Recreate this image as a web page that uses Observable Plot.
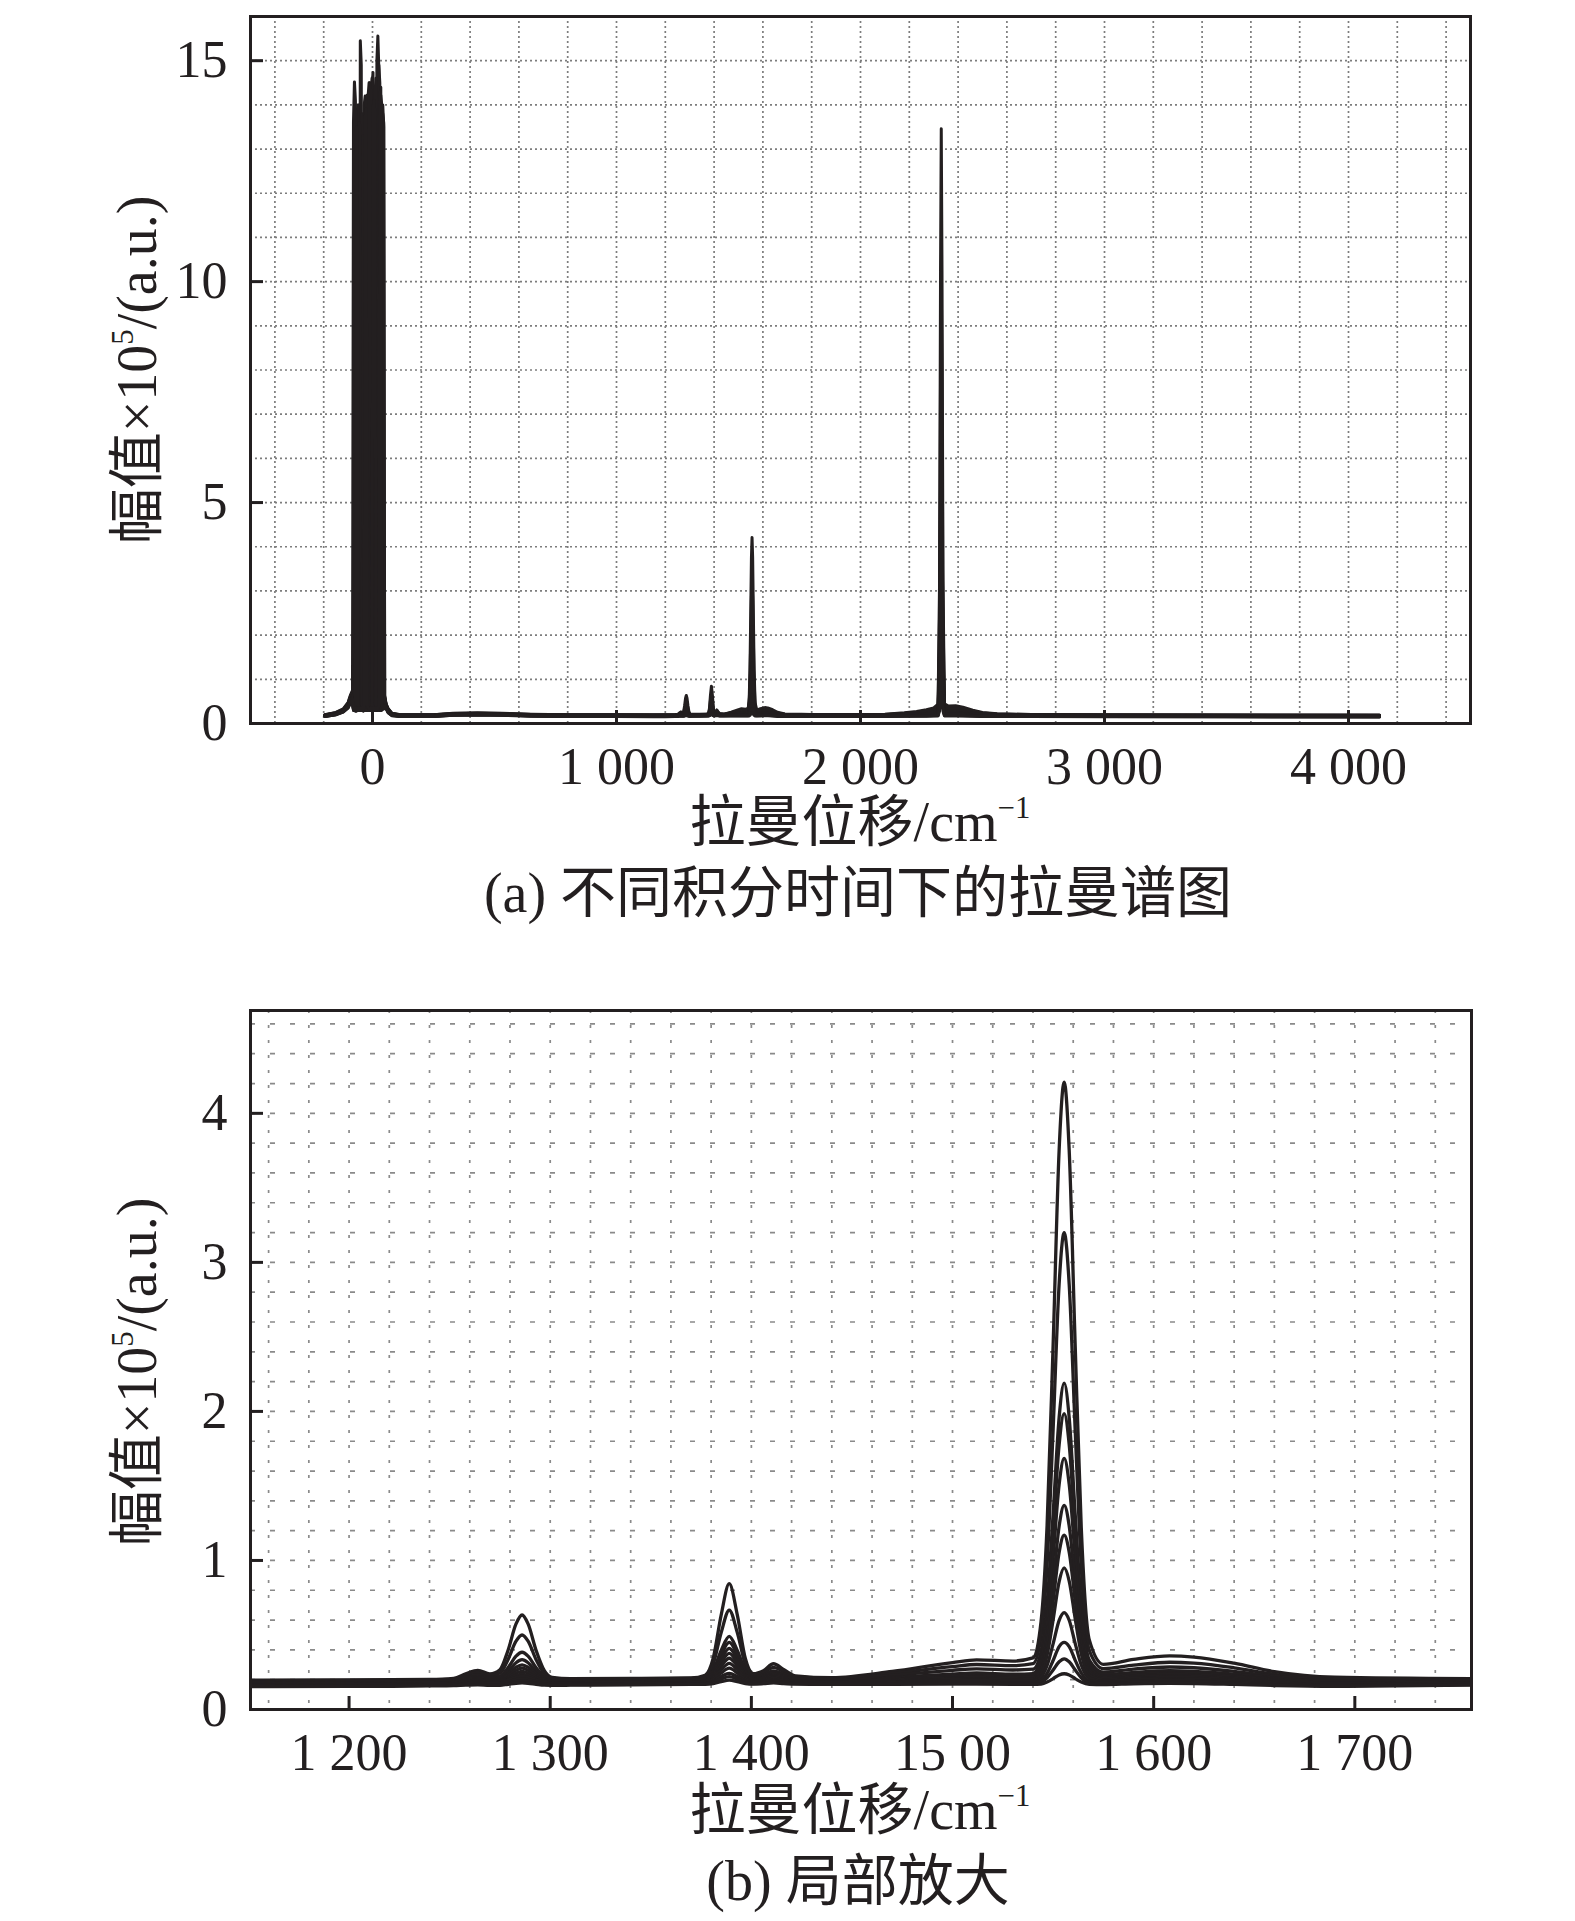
<!DOCTYPE html>
<html><head><meta charset="utf-8">
<script src="https://cdn.jsdelivr.net/npm/d3@7"></script>
<script src="https://cdn.jsdelivr.net/npm/@observablehq/plot@0.6"></script>
<style>
body{margin:0;background:#fff;}
#wrap{position:relative;width:1575px;height:1921px;font-family:'Liberation Serif','Times New Roman','Noto Sans CJK SC',serif;color:#231f20;overflow:hidden;}
#wrap svg{position:absolute;left:0;}
.t{position:absolute;white-space:nowrap;line-height:1;transform:translateX(-50%);}
.t sup{font-size:55%;vertical-align:0.75em;line-height:0;}
.yt{position:absolute;white-space:nowrap;line-height:1;font-size:56px;transform:translate(-50%,-50%) rotate(-90deg);}
.yt sup{font-size:55%;vertical-align:0.75em;line-height:0;}
</style></head>
<body><div id="wrap"></div>
<script>
// ---------- data ----------
const seriesIds = [1,2,3,4,5,6,7,8,9,10,11,12];

// chart (a): Rayleigh region
const rayleighX = [-195,-150,-120,-100,-90,-82,-78,-74,-70,-66,-62,-58,-54,-50,-46,-42,-38,-34,-30,-26,-22,-18,-14,-10,-6,-2,2,6,10,14,18,22,26,30,34,38,42,46,50,56,64,80,110,160,250,330,430,530,650,800,1000];
const rayleighY = [
 [.200,.250,.330,.480,.650,.750, .39,.33,.28,.3,.36,.33,.42,15.45,14.9,.48,.36,.3,.33,.39,.45,14.2,14.5,14.35,.52,.39,.36,.33,.3,.36,.42,.33,.3,.36,.39,.45,.48,.52, .62,.44,.34,.23,.205,.2,.2,.23,.24,.23,.21,.2,.2],
 [.196,.245,.320,.460,.620,.720, .36,.3,.33,.28,.3,.36,.39,.33,.3,.36,.48,14.0,14.2,.45,.36,.33,.3,.36,.39,.33,.3,.36,.33,.48,15.0,15.56,14.8,.5,.39,.42,.45,.5, .60,.43,.33,.225,.2,.196,.196,.225,.235,.225,.206,.196,.196],
 [.192,.240,.310,.440,.600,.700, 13.6,14.52,14.1,.42,.33,.3,.36,.33,.39,.3,.28,.33,.36,.3,.33,.39,.36,.33,.45,14.4,14.73,.48,.36,.3,.33,.39,.36,.33,.36,.42,.45,.48, .58,.42,.32,.22,.196,.192,.192,.22,.23,.22,.202,.192,.192],
 [.188,.235,.300,.430,.580,.680, .33,.36,.3,.45,13.9,14.0,.42,.36,.33,.3,.36,.33,.3,.36,.39,.33,.3,.36,.33,.3,.36,.39,.33,.3,.36,.33,.45,13.8,14.22,14.0,.5,.45, .56,.41,.315,.215,.192,.188,.188,.216,.226,.216,.198,.188,.188],
 [.184,.230,.295,.420,.560,.660, .3,.33,.36,.3,.33,.39,.36,.3,.42,13.8,13.6,.45,.36,.33,.3,.36,.33,.3,.36,.33,.42,14.0,14.3,14.1,.48,.36,.33,.3,.36,.39,.42,.48, .54,.40,.31,.21,.188,.184,.184,.212,.222,.212,.194,.184,.184],
 [.180,.225,.290,.410,.545,.640, .36,.3,.33,.36,.3,.33,.3,.36,.33,.3,.33,.36,.42,14.0,14.22,.45,.36,.33,.3,.36,.33,.3,.36,.33,.3,.36,.33,.3,.39,13.7,14.0,13.5, .52,.39,.30,.205,.184,.18,.18,.208,.218,.208,.19,.18,.18],
 [.176,.220,.285,.400,.530,.620, .33,.39,13.9,13.7,.42,.36,.33,.3,.36,.33,.3,.36,.33,.3,.36,.33,.39,.45,14.3,14.6,14.4,.45,.36,.33,.3,.36,.33,.36,.3,.36,.39,.42, .50,.38,.29,.2,.18,.176,.176,.204,.214,.204,.186,.176,.176],
 [.172,.215,.280,.390,.515,.600, .3,.36,.33,.3,.36,.42,13.6,13.4,.45,.36,.33,.3,.36,.33,.3,.36,.33,.3,.36,.33,.3,.39,14.2,14.6,14.3,.45,.36,.33,.3,.36,.33,.39, .48,.37,.28,.195,.176,.172,.172,.2,.21,.2,.182,.172,.172],
 [.168,.210,.275,.380,.500,.580, .36,.33,.3,.36,.33,.3,.36,.33,.3,.39,13.3,13.1,.42,.36,.33,.3,.36,.33,.3,.36,.33,.3,.36,.33,.3,.42,14.9,14.5,.45,.36,.33,.36, .46,.36,.27,.19,.172,.168,.168,.196,.206,.196,.178,.168,.168],
 [.164,.205,.270,.370,.490,.560, .33,.3,.36,.33,.3,.36,.33,.3,.36,.33,.3,.36,.33,.3,.36,.42,14.1,14.5,14.2,.45,.36,.33,.3,.36,.33,.3,.36,.33,.3,.39,13.8,13.6, .44,.35,.26,.185,.168,.164,.164,.192,.202,.192,.174,.164,.164],
 [.160,.200,.265,.360,.480,.540, .3,.33,.39,13.5,13.3,.42,.36,.33,.3,.36,.33,.3,.36,.33,.3,.36,.33,.3,.36,.39,13.9,14.1,13.8,.42,.36,.33,.3,.36,.33,.3,.36,.39, .42,.34,.25,.18,.164,.16,.16,.188,.198,.188,.17,.16,.16],
 [.156,.195,.260,.350,.470,.520, .33,.3,.36,.33,.3,.33,.36,.3,.33,.36,.3,.39,13.7,13.9,.42,.36,.33,.3,.36,.33,.3,.36,.33,.3,.36,.33,.39,14.1,14.4,.45,.36,.33, .40,.33,.24,.175,.16,.156,.156,.184,.194,.184,.166,.156,.156]
];

// 1151–1758 cm-1 band (chart b, also part of chart a)
const bandX = [1151,1200,1240,1252,1258,1264,1270,1275,1279,1283,1286,1289,1293,1297,1301,1310,1340,1370,1377,1381,1385,1389,1393,1397,1401,1406,1411,1416,1422,1440,1470,1500,1512,1530,1540,1544,1547,1550,1553,1555.5,1558,1561,1564,1568,1575,1590,1608,1620,1640,1660,1690,1758];
const bandY = [
 [.197,.199,.202,.209,.239,.263,.239,.267,.396,.574,.634,.574,.396,.263,.215,.207,.209,.212,.230,.342,.635,.844,.635,.342,.240,.260,.307,.269,.226,.213,.255,.315,.333,.325,.346,.589,1.232,2.442,3.754,4.21,3.751,2.435,1.221,.467,.303,.336,.36,.352,.311,.254,.217,.207],
 [.193,.195,.198,.204,.229,.249,.228,.244,.334,.458,.50,.458,.334,.241,.208,.203,.205,.208,.221,.303,.516,.667,.516,.303,.229,.246,.283,.253,.219,.209,.242,.288,.302,.294,.307,.488,.968,1.874,2.855,3.20,2.852,1.867,.959,.396,.274,.298,.317,.311,.280,.236,.208,.203],
 [.189,.191,.194,.199,.216,.230,.216,.224,.280,.358,.384,.358,.280,.222,.202,.199,.201,.204,.212,.263,.396,.490,.396,.263,.218,.232,.259,.237,.212,.205,.229,.263,.273,.265,.271,.389,.708,1.309,1.960,2.19,1.959,1.307,.705,.332,.251,.271,.285,.280,.256,.223,.201,.199],
 [.185,.187,.190,.194,.209,.221,.208,.213,.256,.314,.334,.314,.256,.212,.196,.195,.197,.200,.207,.252,.368,.450,.368,.252,.212,.223,.245,.227,.207,.201,.216,.238,.245,.237,.241,.348,.639,1.184,1.776,1.985,1.777,1.187,.644,.307,.234,.249,.260,.256,.238,.211,.194,.195],
 [.181,.183,.186,.190,.202,.212,.202,.205,.238,.284,.300,.284,.238,.204,.192,.191,.193,.196,.202,.240,.339,.410,.339,.240,.206,.216,.236,.220,.202,.197,.210,.229,.235,.227,.229,.317,.560,1.016,1.510,1.685,1.511,1.018,.564,.284,.223,.235,.245,.242,.226,.203,.189,.191],
 [.177,.179,.182,.185,.195,.203,.194,.197,.226,.264,.277,.264,.226,.197,.187,.187,.189,.192,.197,.230,.316,.377,.316,.230,.201,.210,.227,.213,.197,.193,.204,.220,.225,.217,.216,.285,.478,.838,1.230,1.370,1.232,.843,.485,.263,.215,.226,.235,.232,.218,.197,.184,.187],
 [.173,.175,.178,.181,.190,.197,.189,.191,.214,.245,.255,.245,.214,.191,.183,.183,.185,.188,.192,.220,.293,.344,.293,.220,.195,.203,.218,.206,.192,.189,.198,.211,.215,.207,.205,.262,.423,.726,1.054,1.170,1.056,.731,.431,.247,.207,.217,.225,.222,.209,.191,.179,.183],
 [.169,.171,.174,.177,.184,.190,.184,.185,.203,.227,.235,.227,.203,.185,.178,.179,.181,.184,.188,.210,.268,.310,.268,.210,.190,.197,.209,.199,.188,.185,.192,.202,.205,.197,.193,.237,.364,.601,.858,.950,.862,.608,.374,.230,.199,.208,.215,.213,.201,.185,.175,.179],
 [.165,.167,.170,.172,.178,.183,.178,.179,.195,.215,.222,.215,.195,.180,.174,.175,.177,.180,.183,.200,.245,.277,.245,.200,.185,.190,.200,.192,.183,.181,.186,.193,.195,.189,.188,.217,.295,.440,.598,.650,.599,.442,.299,.210,.191,.199,.205,.203,.193,.179,.170,.175],
 [.161,.163,.166,.168,.173,.177,.173,.173,.185,.200,.205,.200,.185,.174,.170,.171,.173,.176,.178,.190,.221,.243,.221,.190,.180,.184,.191,.185,.178,.177,.180,.184,.185,.180,.180,.197,.243,.329,.422,.450,.422,.330,.246,.193,.183,.190,.195,.193,.185,.173,.165,.171],
 [.157,.159,.162,.164,.168,.171,.167,.167,.176,.187,.190,.187,.176,.168,.166,.167,.169,.172,.173,.182,.204,.220,.204,.182,.174,.178,.184,.179,.174,.173,.174,.177,.178,.175,.175,.186,.213,.265,.320,.340,.320,.265,.213,.181,.175,.181,.185,.184,.177,.167,.160,.167],
 [.153,.155,.158,.160,.163,.165,.162,.162,.169,.176,.178,.176,.169,.163,.162,.163,.165,.168,.169,.174,.187,.197,.187,.174,.170,.173,.178,.174,.170,.169,.169,.170,.170,.169,.168,.171,.184,.207,.232,.240,.232,.207,.184,.169,.167,.172,.175,.174,.168,.161,.156,.163]
];

// 1800–4127 cm-1 (chart a)
const tailX = [1800,1900,2000,2100,2180,2230,2270,2300,2318,2324,2328,2331,2334,2338,2344,2360,2390,2420,2460,2500,2560,2700,3000,3500,4127];
const tailY = [
 [.205,.204,.203,.212,.242,.272,.312,.352,.437,3.205,10.255,13.46,10.255,3.205,.449,.394,.40,.37,.30,.25,.22,.206,.198,.194,.19],
 [.201,.2,.199,.205,.23,.255,.29,.323,.389,2.477,7.786,10.2,7.786,2.477,.401,.36,.366,.34,.281,.239,.213,.201,.194,.19,.186],
 [.197,.196,.195,.2,.219,.238,.264,.29,.336,1.754,5.36,7.0,5.36,1.754,.345,.318,.322,.303,.257,.225,.205,.196,.19,.186,.182],
 [.193,.192,.191,.195,.21,.225,.245,.265,.305,1.578,4.823,6.3,4.823,1.578,.31,.285,.29,.275,.24,.215,.2,.193,.186,.182,.178],
 [.189,.188,.187,.19,.201,.214,.231,.248,.281,1.35,4.066,5.3,4.066,1.35,.287,.266,.269,.256,.226,.205,.193,.187,.182,.178,.174],
 [.185,.184,.183,.186,.195,.205,.219,.233,.261,1.141,3.382,4.4,3.382,1.141,.265,.248,.25,.24,.215,.198,.188,.182,.178,.174,.17],
 [.181,.18,.179,.182,.19,.198,.21,.222,.244,.98,2.85,3.7,2.85,.98,.248,.234,.236,.227,.206,.191,.182,.177,.174,.17,.166],
 [.177,.176,.175,.177,.184,.19,.2,.21,.228,.818,2.318,3.0,2.318,.818,.232,.22,.222,.215,.197,.185,.177,.173,.17,.166,.162],
 [.173,.172,.171,.173,.178,.183,.19,.198,.211,.614,1.635,2.1,1.635,.614,.214,.207,.208,.202,.188,.178,.172,.169,.166,.162,.158],
 [.169,.168,.167,.169,.172,.176,.18,.186,.196,.452,1.104,1.4,1.104,.452,.198,.193,.194,.19,.179,.171,.167,.165,.162,.158,.154],
 [.165,.164,.163,.164,.167,.169,.172,.175,.181,.366,.836,1.05,.836,.366,.182,.179,.18,.177,.17,.165,.162,.16,.158,.154,.15],
 [.161,.16,.159,.16,.162,.164,.166,.167,.172,.284,.57,.7,.57,.284,.172,.17,.171,.168,.163,.16,.158,.156,.154,.15,.146]
];

// ticks
const xTicksA = [0,1000,2000,3000,4000];
const xLabelsA = ["0","1 000","2 000","3 000","4 000"];
const yTicksA = [0,5,10,15];
const yLabelsA = ["0","5","10","15"];
const xTicksB = [1200,1300,1400,1500,1600,1700];
const xLabelsB = ["1 200","1 300","1 400","15 00","1 600","1 700"];
const yTicksB = [0,1,2,3,4];
const yLabelsB = ["0","1","2","3","4"];

// ---------- build tables ----------
const topRows = [], botRows = [];
seriesIds.forEach((id, s) => {
  rayleighX.forEach((x, i) => topRows.push({s: id, x, y: rayleighY[s][i]}));
  bandX.forEach((x, i) => { topRows.push({s: id, x, y: bandY[s][i]}); botRows.push({s: id, x, y: bandY[s][i]}); });
  tailX.forEach((x, i) => topRows.push({s: id, x, y: tailY[s][i]}));
});

const ink = "#231f20";
const fontStack = "'Liberation Serif','Times New Roman','Noto Sans CJK SC',serif";
const W = 1575;

function panel({rows, xDomain, yDomain, gx, gy, gxDash, gyDash, gridColor, xTicks, xLabels, yTicks, yLabels, mt, mb, ml, mr, h, lineW, curve}) {
  const frameH = h - mt - mb, frameW = W - ml - mr;
  return Plot.plot({
    width: W, height: h,
    marginTop: mt, marginBottom: mb, marginLeft: ml, marginRight: mr,
    x: {domain: xDomain},
    y: {domain: yDomain},
    style: {fontFamily: fontStack, fontSize: "52px", color: ink, background: "transparent"},
    marks: [
      Plot.gridX(gx, {stroke: gridColor, strokeOpacity: 1, strokeWidth: 1.7, strokeDasharray: gxDash}),
      Plot.gridY(gy, {stroke: gridColor, strokeOpacity: 1, strokeWidth: 1.7, strokeDasharray: gyDash}),
      Plot.line(rows, {x: "x", y: "y", z: "s", stroke: ink, strokeWidth: lineW, curve, clip: true}),
      Plot.frame({stroke: ink, strokeWidth: 3}),
      Plot.tickX(xTicks, {x: d => d, stroke: ink, strokeWidth: 3, insetTop: frameH - 13}),
      Plot.tickY(yTicks, {y: d => d, stroke: ink, strokeWidth: 3, insetRight: frameW - 13}),
      Plot.axisX(xTicks, {tickSize: 0, tickPadding: 24, tickFormat: d => xLabels[xTicks.indexOf(d)], label: null}),
      Plot.axisY(yTicks, {tickSize: 0, tickPadding: 23, tickFormat: d => yLabels[yTicks.indexOf(d)], label: null})
    ]
  });
}

const wrap = document.getElementById("wrap");
const a = panel({rows: topRows, xDomain: [-500, 4500], yDomain: [0, 16],
  gx: d3.range(-400, 4500, 200), gy: d3.range(1, 16, 1), gxDash: "2,3", gyDash: "2,3", gridColor: "#7d7d7d",
  xTicks: xTicksA, xLabels: xLabelsA, yTicks: yTicksA, yLabels: yLabelsA,
  mt: 16, mb: 77, ml: 250, mr: 105, h: 800, lineW: 3, curve: "linear"});
a.style.top = "0px";
wrap.appendChild(a);

const b = panel({rows: botRows, xDomain: [1151, 1758], yDomain: [0, 4.69],
  gx: d3.range(1160, 1758, 20), gy: d3.range(0.2, 4.69, 0.2), gxDash: "3,12", gyDash: "5,15", gridColor: "#8a8a8a",
  xTicks: xTicksB, xLabels: xLabelsB, yTicks: yTicksB, yLabels: yLabelsB,
  mt: 20, mb: 81, ml: 250, mr: 104, h: 800, lineW: 3.3, curve: "monotone-x"});
b.style.top = "990px";
wrap.appendChild(b);

function addText(html, cls, x, y, size) {
  const d = document.createElement("div");
  d.className = cls;
  d.innerHTML = html;
  d.style.left = x + "px";
  d.style.top = (cls === "t" ? y - size / 2 : y) + "px";
  d.style.fontSize = size + "px";
  wrap.appendChild(d);
}
addText("拉曼位移/cm<sup>−1</sup>", "t", 860, 822, 56);
addText("(a) 不同积分时间下的拉曼谱图", "t", 858, 893, 56);
addText("拉曼位移/cm<sup>−1</sup>", "t", 860, 1810, 56);
addText("(b) 局部放大", "t", 858, 1881, 56);
addText("幅值×10<sup>5</sup>/(a.u.)", "yt", 137, 370, 56);
addText("幅值×10<sup>5</sup>/(a.u.)", "yt", 137, 1372, 56);
</script>
</body></html>
